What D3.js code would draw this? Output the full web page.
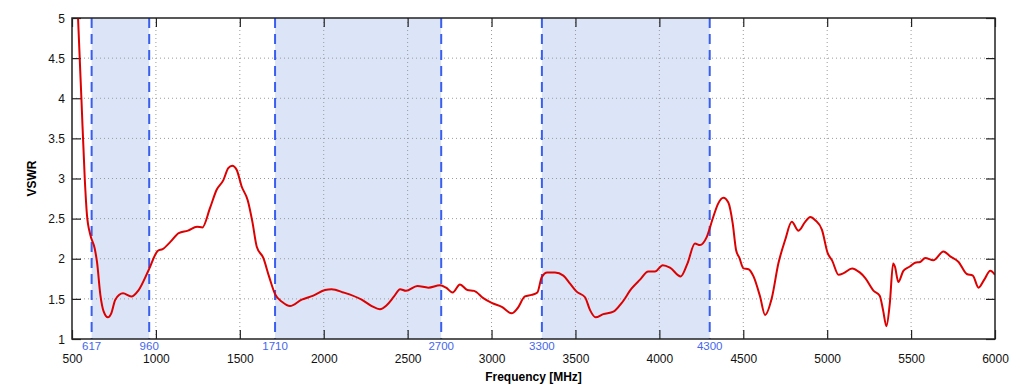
<html lang="en">
<head>
<meta charset="utf-8">
<title>VSWR</title>
<script src="https://cdn.jsdelivr.net/npm/d3@7"></script>
<style>
  body { margin: 0; background: #fff; }
  text { font-family: "Liberation Sans", Arial, sans-serif; }
</style>
</head>
<body></body>
<script type="text/javascript">

//****************************************************************************************************************************//
// Data

var freq = [525, 536, 556, 576, 589, 609, 635, 649, 669, 689, 714, 734, 758, 804, 853, 897, 957, 1012, 1040, 1086, 1136, 1191, 1245,
            1277, 1322, 1362, 1402, 1431, 1455, 1481, 1511, 1547, 1575, 1601, 1640, 1674, 1710, 1753, 1799, 1869, 1938, 2008, 2047,
            2117, 2226, 2286, 2335, 2375, 2419, 2455, 2490, 2558, 2623, 2693, 2729, 2768, 2812, 2856, 2896, 2951, 3001, 3061, 3120,
            3154, 3199, 3239, 3273, 3299, 3332, 3378, 3428, 3468, 3507, 3557, 3587, 3620, 3666, 3726, 3776, 3835, 3885, 3934, 3974,
            4020, 4063, 4127, 4167, 4212, 4242, 4282, 4321, 4351, 4381, 4411, 4437, 4457, 4477, 4501, 4531, 4561, 4600, 4630, 4670,
            4709, 4749, 4789, 4829, 4869, 4899, 4929, 4969, 5003, 5029, 5068, 5098, 5148, 5194, 5227, 5277, 5313, 5333, 5353, 5373,
            5393, 5404, 5424, 5454, 5490, 5524, 5554, 5584, 5633, 5693, 5733, 5783, 5832, 5868, 5902, 5936, 5972, 6000];
var vswr = [5.6, 5.0, 4.0, 3.0, 2.55, 2.30, 2.13, 1.96, 1.55, 1.34, 1.27, 1.32, 1.49, 1.57, 1.53, 1.61, 1.86, 2.10, 2.12, 2.21, 2.32, 2.35, 2.40,
            2.39, 2.63, 2.86, 2.98, 3.13, 3.16, 3.11, 2.90, 2.73, 2.46, 2.15, 2.01, 1.78, 1.56, 1.46, 1.41, 1.49, 1.54, 1.61, 1.62,
            1.58, 1.49, 1.41, 1.37, 1.42, 1.53, 1.62, 1.60, 1.66, 1.64, 1.67, 1.64, 1.58, 1.68, 1.61, 1.60, 1.51, 1.45, 1.40, 1.32,
            1.38, 1.53, 1.55, 1.58, 1.77, 1.83, 1.83, 1.79, 1.69, 1.59, 1.52, 1.36, 1.27, 1.31, 1.34, 1.45, 1.63, 1.74, 1.84, 1.84,
            1.92, 1.89, 1.78, 1.94, 2.19, 2.17, 2.27, 2.52, 2.69, 2.76, 2.70, 2.44, 2.11, 2.01, 1.88, 1.87, 1.78, 1.53, 1.30, 1.51,
            1.94, 2.23, 2.46, 2.35, 2.46, 2.52, 2.48, 2.36, 2.07, 1.98, 1.80, 1.82, 1.88, 1.83, 1.76, 1.60, 1.54, 1.36, 1.16, 1.44,
            1.94, 1.90, 1.71, 1.85, 1.90, 1.95, 1.96, 2.01, 1.98, 2.09, 2.03, 1.96, 1.81, 1.79, 1.64, 1.74, 1.85, 1.80];

var bandStart = [617, 1710, 3300];
var bandEnd = [960, 2700, 4300];
var bandEdges = [617, 960, 1710, 2700, 3300, 4300];

var xTicks = [500, 1000, 1500, 2000, 2500, 3000, 3500, 4000, 4500, 5000, 5500, 6000];
var yTicks = [1, 1.5, 2, 2.5, 3, 3.5, 4, 4.5, 5];

//****************************************************************************************************************************//
// Canvas

var width = 1020,
    height = 388;
var margin = {left: 72, right: 25, top: 18, bottom: 49};
var plotW = width - margin.left - margin.right,
    plotH = height - margin.top - margin.bottom;

var canvas = d3.select("body")
            .append("svg")
            .attr("width", width)
            .attr("height", height);

var x = d3.scaleLinear().domain([500, 6000]).range([0, plotW]);
var y = d3.scaleLinear().domain([1, 5]).range([plotH, 0]);

var plot = canvas.append("g")
            .attr("transform", "translate(" + margin.left + "," + margin.top + ")");

plot.append("clipPath")
    .attr("id", "clip")
    .append("rect")
    .attr("width", plotW)
    .attr("height", plotH);

// bands
plot.selectAll(".band")
    .data(bandStart)
    .enter().append("rect")
    .attr("class", "band")
    .attr("x", function(d){ return x(d); })
    .attr("y", 0)
    .attr("width", function(d, i){ return x(bandEnd[i]) - x(d); })
    .attr("height", plotH)
    .attr("fill", "#dce5f7");

// grid
plot.selectAll(".vgrid")
    .data(xTicks.slice(1, -1))
    .enter().append("line")
    .attr("x1", function(d){ return x(d); })
    .attr("x2", function(d){ return x(d); })
    .attr("y1", 0)
    .attr("y2", plotH)
    .attr("stroke", "#9a9a9a")
    .attr("stroke-dasharray", "1,3");

plot.selectAll(".hgrid")
    .data(yTicks.slice(1, -1))
    .enter().append("line")
    .attr("x1", 0)
    .attr("x2", plotW)
    .attr("y1", function(d){ return y(d); })
    .attr("y2", function(d){ return y(d); })
    .attr("stroke", "#9a9a9a")
    .attr("stroke-dasharray", "1,3");

// band edges
plot.selectAll(".edge")
    .data(bandEdges)
    .enter().append("line")
    .attr("x1", function(d){ return x(d); })
    .attr("x2", function(d){ return x(d); })
    .attr("y1", 0)
    .attr("y2", plotH)
    .attr("stroke", "#3a5ef0")
    .attr("stroke-width", 2)
    .attr("stroke-dasharray", "10,6");

// axes
var tickFmt = function(d){ return String(d); };

var bottomAxis = plot.append("g")
    .attr("transform", "translate(0," + plotH + ")")
    .call(d3.axisBottom(x).tickValues(xTicks).tickFormat(tickFmt).tickSizeInner(-9).tickSizeOuter(0).tickPadding(15));
var topAxis = plot.append("g")
    .call(d3.axisTop(x).tickValues(xTicks).tickFormat("").tickSizeInner(-9).tickSizeOuter(0));
var leftAxis = plot.append("g")
    .call(d3.axisLeft(y).tickValues(yTicks).tickFormat(tickFmt).tickSizeInner(-9).tickSizeOuter(0).tickPadding(7));
var rightAxis = plot.append("g")
    .attr("transform", "translate(" + plotW + ",0)")
    .call(d3.axisRight(y).tickValues(yTicks).tickFormat("").tickSizeInner(-9).tickSizeOuter(0));

[bottomAxis, topAxis, leftAxis, rightAxis].forEach(function(a){
    a.select(".domain").remove();
    a.selectAll("line").attr("stroke", "#222").attr("stroke-width", 1.2);
    a.selectAll("text").attr("fill", "#111").style("font-size", "12px");
});
bottomAxis.selectAll("text").attr("dy", "0.71em");
leftAxis.selectAll("text").attr("dy", "0.35em");

// curve
var line = d3.line()
    .x(function(d, i){ return x(freq[i]); })
    .y(function(d){ return y(d); })
    .curve(d3.curveMonotoneX);

plot.append("path")
    .datum(vswr)
    .attr("clip-path", "url(#clip)")
    .attr("d", line)
    .attr("fill", "none")
    .attr("stroke", "#dd0000")
    .attr("stroke-width", 2);

// frame
plot.append("rect")
    .attr("width", plotW)
    .attr("height", plotH)
    .attr("fill", "none")
    .attr("stroke", "#222")
    .attr("stroke-width", 1.5);

// band labels
plot.selectAll(".edgeLabel")
    .data(bandEdges)
    .enter().append("text")
    .attr("x", function(d){ return x(d); })
    .attr("y", plotH + 11)
    .attr("text-anchor", "middle")
    .attr("fill", "#4466ee")
    .style("font-size", "11.5px")
    .text(function(d){ return d; });

// titles
canvas.append("text")
    .attr("x", margin.left + plotW / 2)
    .attr("y", 381)
    .attr("text-anchor", "middle")
    .style("font-size", "12px")
    .style("font-weight", "bold")
    .text("Frequency [MHz]");

canvas.append("text")
    .attr("transform", "translate(36," + (margin.top + plotH / 2) + ") rotate(-90)")
    .attr("text-anchor", "middle")
    .style("font-size", "12px")
    .style("font-weight", "bold")
    .text("VSWR");

</script>
</html>
